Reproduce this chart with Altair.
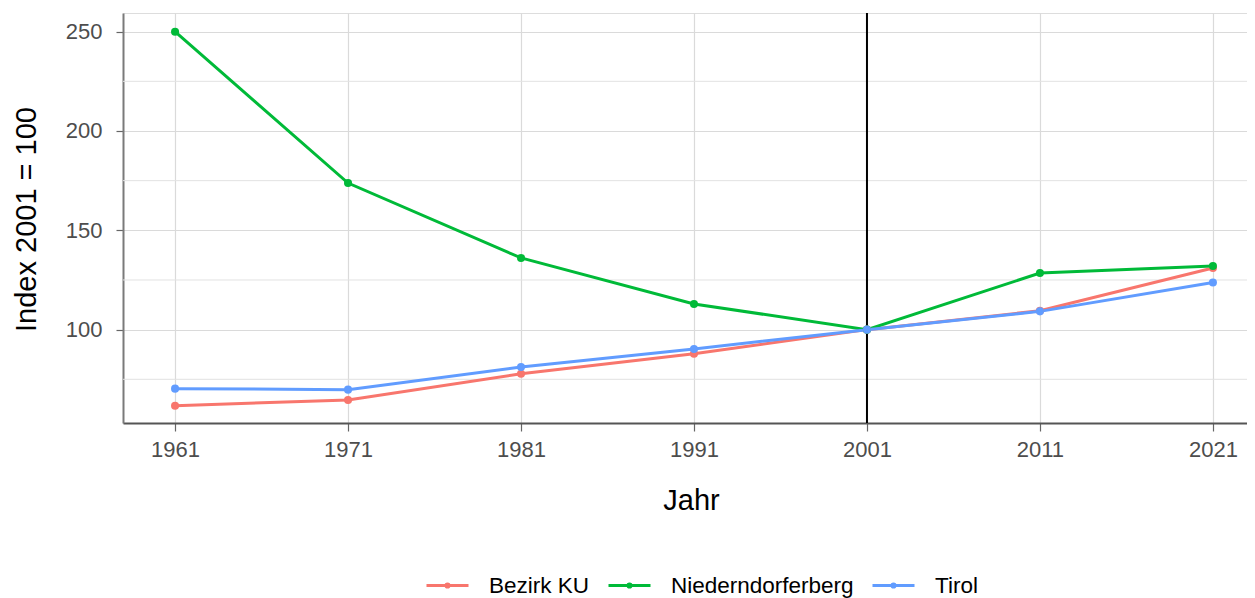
import altair as alt
import pandas as pd

years = [1961, 1971, 1981, 1991, 2001, 2011, 2021]
bezirk_ku = [61.7, 64.6, 77.8, 87.9, 100.0, 109.5, 131.0]
niederndorferberg = [250.0, 173.8, 136.1, 112.9, 100.0, 128.5, 132.0]
tirol = [70.3, 69.8, 81.2, 90.3, 100.0, 109.2, 123.7]
series_names = ["Bezirk KU", "Niederndorferberg", "Tirol"]
series_colors = ["#F8766D", "#00BA38", "#619CFF"]
y_major = [100, 150, 200, 250]
y_minor = [75, 125, 175, 225]
ref_year = [2001]

rows = []
for name, vals in zip(series_names, [bezirk_ku, niederndorferberg, tirol]):
    for yr, v in zip(years, vals):
        rows.append({"Jahr": yr, "Index": v, "Gebiet": name})
df = pd.DataFrame(rows)
minor_df = pd.DataFrame({"Index": y_minor})
ref_df = pd.DataFrame({"Jahr": ref_year})

FONT = "Liberation Sans"
xscale = alt.Scale(domain=[1957.99, 2022.97], nice=False, zero=False)
yscale = alt.Scale(domain=[53.0, 259.4], nice=False, zero=False)

legend_path = "M-1,0H1M0.08,0A0.08,0.08,0,1,1,-0.08,0A0.08,0.08,0,1,1,0.08,0"

color = alt.Color(
    "Gebiet:N",
    scale=alt.Scale(domain=series_names, range=series_colors),
    legend=alt.Legend(
        title=None, orient="none", direction="horizontal",
        legendX=302, legendY=550,
        symbolType=legend_path, symbolSize=1764, symbolStrokeWidth=2.8,
        labelFontSize=22.5, labelFont=FONT, labelColor="#000000", labelLimit=500,
        labelOffset=19, columnPadding=12,
    ),
)

x_axis = alt.Axis(
    values=years, format="d", grid=True, gridColor="#dadada", gridWidth=1.2,
    labelFontSize=22, labelFont=FONT, labelColor="#4d4d4d", labelPadding=8,
    tickSize=8, tickColor="#666666", tickWidth=1.2,
    domainColor="#555555", domainWidth=2,
    titleFontSize=29, titleFont=FONT, titleFontWeight="normal", titleColor="#000000",
    titleX=568, titleY=86, titleAlign="center", titleBaseline="alphabetic",
)
y_axis = alt.Axis(
    values=y_major, grid=True, gridColor="#dadada", gridWidth=1.2,
    labelFontSize=22, labelFont=FONT, labelColor="#4d4d4d", labelPadding=14,
    tickSize=7, tickColor="#666666", tickWidth=1.2,
    domainColor="#7a7a7a", domainWidth=2,
    titleFontSize=29, titleFont=FONT, titleFontWeight="normal", titleColor="#000000",
    titleAngle=270, titleX=-88, titleY=206, titleAlign="center", titleBaseline="alphabetic",
)

x_enc = alt.X("Jahr:Q", scale=xscale, title="Jahr", axis=x_axis)
y_enc = alt.Y("Index:Q", scale=yscale, title="Index 2001 = 100", axis=y_axis)

minor = alt.Chart(minor_df).mark_rule(color="#e2e2e2", strokeWidth=1).encode(y=y_enc)
rule = alt.Chart(ref_df).mark_rule(color="#000000", strokeWidth=2).encode(x=x_enc)
lines = alt.Chart(df).mark_line(strokeWidth=3).encode(x=x_enc, y=y_enc, color=color)
points = alt.Chart(df).mark_point(filled=True, size=65, opacity=1).encode(
    x=x_enc, y=y_enc, color=color
)

chart = alt.layer(minor, rule, lines, points).properties(
    width=1124, height=410,
    autosize=alt.AutoSizeParams(type="none"),
    padding={"left": 115, "top": 5, "right": 0, "bottom": 175},
).configure_view(
    stroke="#7f7f7f", strokeWidth=1.5
).configure(background="white")

chart.save("out.html", embed_options={"renderer": "svg", "actions": False})
